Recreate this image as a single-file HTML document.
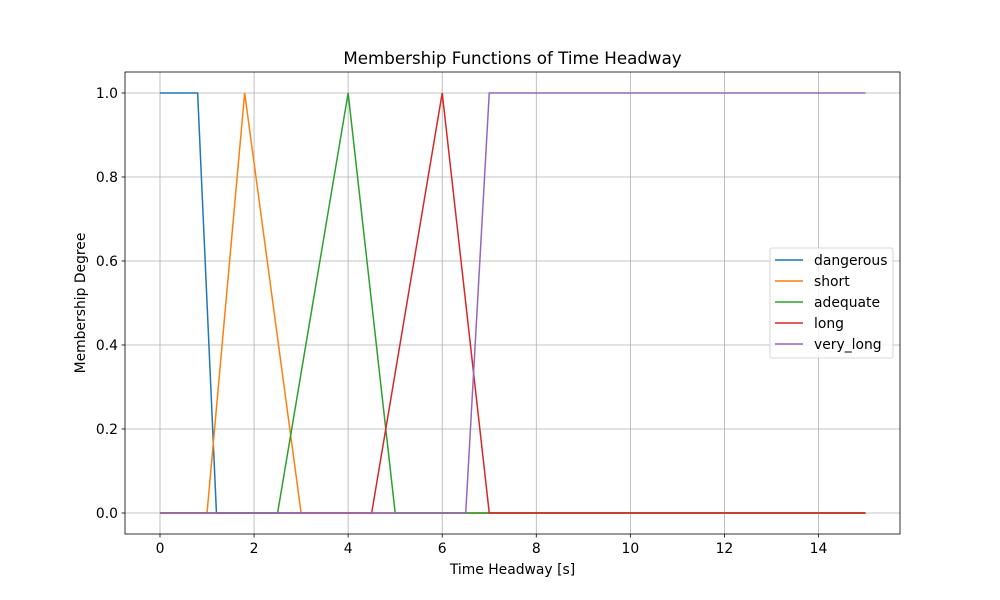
<!DOCTYPE html>
<html><head><meta charset="utf-8"><style>
body{margin:0;background:#fff;}
svg{display:block;font-family:"DejaVu Sans","Liberation Sans",sans-serif;}
</style></head><body>
<svg id="chart" width="1000" height="600"></svg>
<script>
const xTicks=[0,2,4,6,8,10,12,14];
const yTicks=[0,0.2,0.4,0.6,0.8,1.0];
const yTickLabels=["0.0","0.2","0.4","0.6","0.8","1.0"];
const seriesNames=["dangerous","short","adequate","long","very_long"];
const dangerousX=[0,0.8,1.2,15], dangerousY=[1,1,0,0];
const shortX=[0,1,1.8,3,15], shortY=[0,0,1,0,0];
const adequateX=[0,2.5,4,5,15], adequateY=[0,0,1,0,0];
const longX=[0,4.5,6,7,15], longY=[0,0,1,0,0];
const veryLongX=[0,6.5,7,15], veryLongY=[0,0,1,1];
const colors=["#1f77b4","#ff7f0e","#2ca02c","#d62728","#9467bd"];
const allX=[dangerousX,shortX,adequateX,longX,veryLongX];
const allY=[dangerousY,shortY,adequateY,longY,veryLongY];

const L=125,R=900,T=72,B=534;
const sx=v=>160+v*47.036;
const sy=v=>513-v*420;
const svg=document.getElementById('chart');
const NS='http://www.w3.org/2000/svg';
function mk(tag,attrs,parent){const e=document.createElementNS(NS,tag);for(const k in attrs)e.setAttribute(k,attrs[k]);(parent||svg).appendChild(e);return e;}
function txt(s,attrs){const e=mk('text',attrs);e.textContent=s;return e;}

const grid=mk('g',{});


xTicks.forEach(v=>{mk('line',{x1:sx(v),x2:sx(v),y1:T,y2:B,stroke:'#b0b0b0','stroke-width':0.8},grid);});
yTicks.forEach(v=>{mk('line',{x1:L,x2:R,y1:sy(v),y2:sy(v),stroke:'#b0b0b0','stroke-width':0.8},grid);});

allX.forEach((xs,i)=>{
  const pts=xs.map((x,j)=>sx(x)+','+sy(allY[i][j])).join(' ');
  const p=mk('polyline',{points:pts,fill:'none',stroke:colors[i],'stroke-width':1.5});
  
  
});

const frame=mk('rect',{x:L,y:T,width:R-L,height:B-T,fill:'none',stroke:'#000','stroke-width':0.8});



xTicks.forEach(v=>{
  mk('line',{x1:sx(v),x2:sx(v),y1:B,y2:B+3.5,stroke:'#000','stroke-width':0.8});
  const t=txt(String(v),{x:sx(v),y:B+19,'font-size':13.9,'text-anchor':'middle'});
  
  
});
yTicks.forEach((v,i)=>{
  mk('line',{x1:L-3.5,x2:L,y1:sy(v),y2:sy(v),stroke:'#000','stroke-width':0.8});
  const t=txt(yTickLabels[i],{x:L-7,y:sy(v)+5,'font-size':13.9,'text-anchor':'end'});
  
  
});

let t=txt('Membership Functions of Time Headway',{x:512.5,y:64,'font-size':16.7,'text-anchor':'middle'});


t=txt('Time Headway [s]',{x:512.5,y:574,'font-size':13.9,'text-anchor':'middle'});


t=txt('Membership Degree',{x:85,y:303,'font-size':13.9,'text-anchor':'middle',transform:'rotate(-90 85 303)'});



const lg=mk('g',{});


mk('rect',{x:770,y:248,width:123,height:110,rx:2,fill:'#fff','fill-opacity':0.8,stroke:'#cccccc','stroke-width':0.8},lg);
seriesNames.forEach((n,i)=>{
  const y=260+i*21;
  const g=mk('g',{},lg);
  
  
  mk('line',{x1:775,x2:803,y1:y,y2:y,stroke:colors[i],'stroke-width':1.5},g);
  const e=mk('text',{x:814,y:y+5,'font-size':13.9},g);e.textContent=n;
});
</script>
</body></html>
